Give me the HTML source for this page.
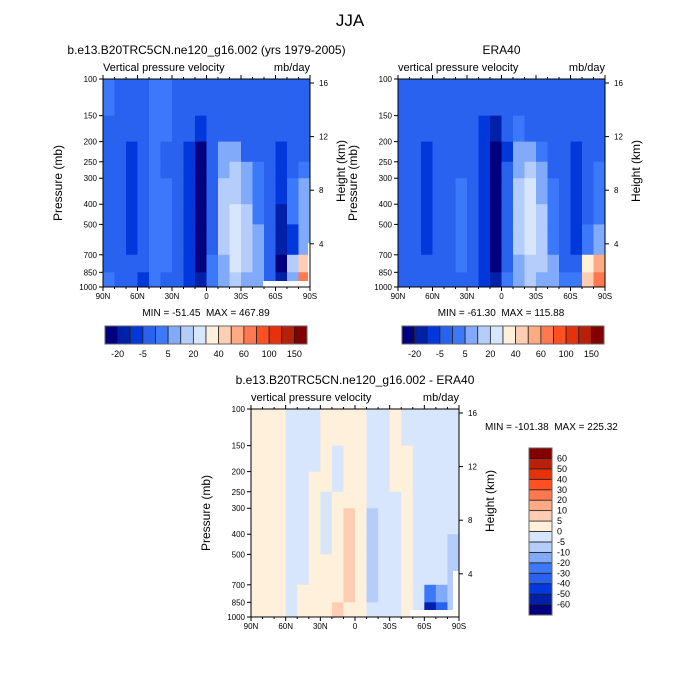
<!DOCTYPE html>
<html><head><meta charset="utf-8"><style>
html,body{margin:0;padding:0;background:#fff}
svg{display:block;font-family:"Liberation Sans",sans-serif}
</style></head><body>
<svg id="s" width="700" height="700" viewBox="0 0 700 700" xmlns="http://www.w3.org/2000/svg">
<text x="350" y="26" font-size="17" text-anchor="middle">JJA</text>
</svg>
<script>
// ---- data ----
const latLabels = ["90N","60N","30N","0","30S","60S","90S"];
const pressureTicks = [100,150,200,250,300,400,500,700,850,1000];
const heightTicks = [16,12,8,4];
const layerBounds = [100,150,200,250,300,400,500,700,850,1000];
const topLevels = [-20,-10,-5,0,5,10,20,30,40,50,60,80,100,120,150];
const topLevelLabels = ["-20","-5","5","20","40","60","100","150"];
const diffLevels = [-60,-50,-40,-30,-20,-10,-5,0,5,10,20,30,40,50,60];
const diffLevelLabels = ["-60","-50","-40","-30","-20","-10","-5","0","5","10","20","30","40","50","60"];
const palette = ["#00007f","#0020a8","#0038dc","#2a62f0","#3c78fa","#82aafa","#b4cdfa","#d7e6fc","#fff0dc","#ffcdb4","#ffaa82","#ff7850","#ff5023","#e6320a","#b9200a","#820000"];
const modelField = [
[2,-3,-3,-3,2,2,-3,-3,-3,-3,-3,-3,-3,-3,-3,-3,-3,-3],
[-3,-3,-3,-3,2,2,-3,-3,-7,-3,-3,-3,-3,-3,-3,-3,-3,-3],
[-3,-3,-7,-3,2,-3,-3,-7,-25,-3,7,7,-3,-3,-3,-7,-3,-3],
[-3,-3,-7,-3,2,-3,-3,-7,-25,-3,7,15,7,2,-3,-7,-3,2],
[-3,-3,-7,-3,2,2,-3,-7,-25,-3,15,15,7,2,-3,-7,2,7],
[-3,-3,-7,-3,2,2,-3,-7,-25,-3,15,25,15,2,-3,-12,2,7],
[-3,-3,-7,-3,2,2,-3,-7,-25,-3,15,25,15,7,-3,-12,-7,7],
[-3,-3,-3,-3,2,2,-3,-7,-25,2,7,25,15,7,-3,-25,15,45],
[2,-3,-3,-7,2,-3,-3,-7,-12,2,7,15,7,7,-3,-12,7,60]];
const eraField = [
[-3,-3,-3,-3,-3,-3,-3,-3,-3,-3,-3,-3,-3,-3,-3,-3,-3,-3],
[-3,-3,-3,-3,-3,-3,-3,-7,-12,-3,2,-3,-3,-3,-3,-3,-3,-3],
[-3,-3,-7,-3,-3,-3,-3,-7,-25,-7,7,7,2,-3,-3,-7,-3,-3],
[-3,-3,-7,-3,-3,-3,-3,-7,-25,-3,7,15,7,-3,-3,-7,-3,2],
[-3,-3,-7,-3,-3,2,-3,-7,-25,-3,15,25,7,2,-3,-7,-3,2],
[-3,-3,-7,-3,-3,2,-3,-7,-25,-3,15,25,15,2,-3,-7,-3,2],
[-3,-3,-7,-3,-3,2,-3,-7,-25,-3,15,25,15,2,-3,-7,2,7],
[-3,-3,-3,-3,-3,2,-3,-7,-25,-3,7,15,15,7,-3,-3,35,55],
[-3,-3,-3,-3,-3,-3,-3,-7,-12,2,7,15,7,7,2,2,45,70]];
const diffField = [
[2,2,2,-2,-2,-2,2,2,2,2,-2,-2,2,-2,-2,-2,-2,-2],
[2,2,2,-2,-2,-2,2,-2,2,2,-2,-2,2,2,-2,-2,-2,-2],
[2,2,2,-2,-2,2,2,-2,2,2,-2,-2,2,2,-2,-2,-2,-2],
[2,2,2,-2,-2,2,-2,2,2,2,-2,-2,-2,2,-2,-2,-2,-2],
[2,2,2,-2,-2,2,-2,2,7,2,-7,-2,-2,2,-2,-2,-2,-2],
[2,2,2,-2,-2,2,-2,2,7,2,-7,-2,-2,2,-2,-2,-2,-7],
[2,2,2,-2,-2,2,2,2,7,2,-7,-2,-2,2,-2,-2,-2,-7],
[2,2,2,-2,2,2,2,2,7,2,-7,-2,-2,2,-2,-25,-15,-7],
[2,2,2,-2,2,2,2,7,2,2,-2,-2,-2,2,-2,-55,-35,-7]];

const NS="http://www.w3.org/2000/svg";
const svg=document.getElementById('s');
function mk(tag,attrs,parent,txt){const e=document.createElementNS(NS,tag);for(const k in attrs)e.setAttribute(k,attrs[k]);if(txt!==undefined)e.textContent=txt;(parent||svg).appendChild(e);return e;}
function colorIdx(v,levels){let i=0;while(i<levels.length&&v>=levels[i])i++;return i;}

function drawPlot(name,x0,y0,w,h,field,levels,sub,ttl,minmax,whiteRects){
  const g=mk('g',{});
  
  
  const yOf=p=>y0+h*Math.log(p/100)/Math.log(10);
  const xOf=i=>x0+w*i/field[0].length;
  for(let r=0;r<field.length;r++){
    for(let c=0;c<field[r].length;c++){
      const y1=yOf(layerBounds[r]),y2=yOf(layerBounds[r+1]);
      const cell=mk('rect',{x:xOf(c),y:y1,width:xOf(c+1)-xOf(c)+0.5,height:y2-y1+0.5,fill:palette[colorIdx(field[r][c],levels)]},g);
      
      
    }
  }
  whiteRects.forEach(b=>{const wr=mk('rect',{x:b[0],y:b[1],width:b[2],height:b[3],fill:'#fff'},g);
    });
  const fr=mk('rect',{x:x0,y:y0,width:w,height:h,fill:'none',stroke:'#000','stroke-width':1},g);
  
  pressureTicks.forEach(p=>{const y=yOf(p);
    mk('line',{x1:x0-4,x2:x0,y1:y,y2:y,stroke:'#000'},g);
    const t=mk('text',{x:x0-6,y:y+3,'font-size':8,'text-anchor':'end'},g,p);
    });
  heightTicks.forEach(z=>{const yy=y0+4+(16-z)*13.4;
    mk('line',{x1:x0+w,x2:x0+w+4,y1:yy,y2:yy,stroke:'#000'},g);
    const t=mk('text',{x:x0+w+9,y:yy+3,'font-size':8},g,z);
    });
  for(let i=0;i<=18;i++){const x=x0+w*i/18;const major=i%3===0;
    mk('line',{x1:x,x2:x,y1:y0+h,y2:y0+h+(major?4:2),stroke:'#000'},g);
    mk('line',{x1:x,x2:x,y1:y0,y2:y0-(major?4:2),stroke:'#000'},g);}
  latLabels.forEach((l,i)=>{const t=mk('text',{x:x0+w*i/6,y:y0+h+12,'font-size':8,'text-anchor':'middle'},g,l);
    });
  const a=mk('text',{x:0,y:0,'font-size':12,'text-anchor':'middle',transform:`translate(${x0-41},${y0+h/2}) rotate(-90)`},g,'Pressure (mb)');
  
  const b=mk('text',{x:0,y:0,'font-size':12,'text-anchor':'middle',transform:`translate(${x0+w+35},${y0+h/2-12}) rotate(-90)`},g,'Height (km)');
  
  const l1=mk('text',{x:x0,y:y0-8,'font-size':11},g,sub);
  
  const l2=mk('text',{x:x0+w,y:y0-8,'font-size':11,'text-anchor':'end'},g,'mb/day');
  
  const l3=mk('text',{x:x0+w/2,y:y0-25,'font-size':12,'text-anchor':'middle'},g,ttl);
  
  if(minmax){const m=mk('text',{x:minmax[1],y:minmax[2],'font-size':10,'text-anchor':minmax[3]},g,minmax[0]);
    }
}

function hbar(name,x0,y0,w,h){
  const g=mk('g',{});
  const bw=w/palette.length;
  palette.forEach((c,i)=>{const r=mk('rect',{x:x0+i*bw,y:y0,width:bw,height:h,fill:c,stroke:'#222','stroke-width':0.8},g);
    });
  mk('rect',{x:x0,y:y0,width:w,height:h,fill:'none',stroke:'#666'},g);
  topLevelLabels.forEach((l,k)=>{const t=mk('text',{x:x0+(2*k+1)*bw,y:y0+h+13,'font-size':9,'text-anchor':'middle'},g,l);
    });
}
function vbar(name,x0,y0,w,h){
  const g=mk('g',{});
  const bh=h/palette.length;
  palette.forEach((c,i)=>{const r=mk('rect',{x:x0,y:y0+h-(i+1)*bh,width:w,height:bh,fill:c,stroke:'#222','stroke-width':0.8},g);
    });
  mk('rect',{x:x0,y:y0,width:w,height:h,fill:'none',stroke:'#666'},g);
  diffLevelLabels.forEach((l,k)=>{const t=mk('text',{x:x0+w+5,y:y0+h-(k+1)*bh+3,'font-size':9},g,l);
    });
}

const sp='\u00a0\u00a0';
drawPlot('model',103,79,207,208,modelField,topLevels,'Vertical pressure velocity','b.e13.B20TRC5CN.ne120_g16.002 (yrs 1979-2005)',['MIN = -51.45'+sp+'MAX = 467.89',206,316,'middle'],[[263,281,47,6],[308,243,2,44]]);
drawPlot('era',398,79,207,208,eraField,topLevels,'vertical pressure velocity','ERA40',['MIN = -61.30'+sp+'MAX = 115.88',501,316,'middle'],[]);
drawPlot('diff',251,409,208,208,diffField,diffLevels,'vertical pressure velocity','b.e13.B20TRC5CN.ne120_g16.002 - ERA40',['MIN = -101.38'+sp+'MAX = 225.32',485,430,'start'],[[410,610,43,7],[453,571,6,46]]);
hbar('model-colorbar',105,326,202,18);
hbar('era-colorbar',402,326,202,18);
vbar('diff-colorbar',529,448,23,167);
</script>
</body></html>
